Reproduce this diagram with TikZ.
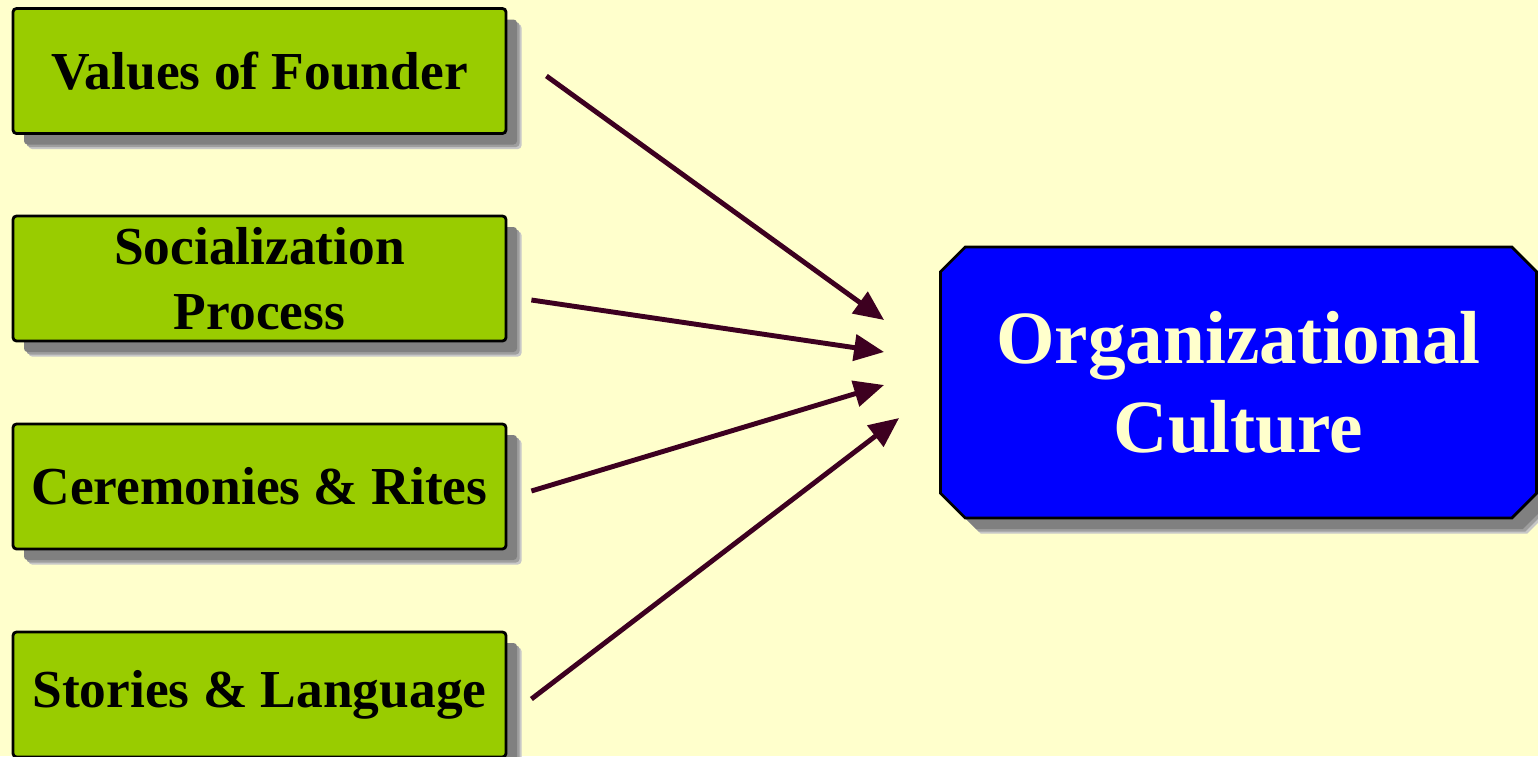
\documentclass[tikz,border=0pt]{standalone}
\usepackage{fontspec}
\setmainfont{Liberation Serif}
\usetikzlibrary{shapes.geometric, shapes.misc, arrows.meta, positioning, calc, shadows}
\definecolor{paleyellow}{RGB}{255,255,204}
\definecolor{leafgreen}{RGB}{153,204,0}
\definecolor{pureblue}{RGB}{0,0,255}
\definecolor{darkplum}{RGB}{61,0,32}

\begin{document}
\begin{tikzpicture}
        \tikzstyle{soft shadow} = [drop shadow={shadow xshift=0.155cm, shadow yshift=-0.155cm, fill=black!22, opacity=1}, drop shadow={shadow xshift=0.135cm, shadow yshift=-0.135cm, fill=black!38, opacity=1}, drop shadow={shadow xshift=0.11cm, shadow yshift=-0.11cm, fill=black!50, opacity=1}]
        \tikzstyle{factor} = [rectangle, draw=black, line width=0.8pt, rounded corners=1pt, fill=leafgreen, minimum width=4.93cm, minimum height=1.25cm, inner sep=0pt, align=center, font=\fontsize{15.2}{18.5}\selectfont\bfseries, soft shadow]
        \tikzstyle{result} = [chamfered rectangle, chamfered rectangle xsep=0.14cm, draw=black, line width=0.8pt, fill=pureblue, text=paleyellow, minimum width=5.96cm, minimum height=2.71cm, inner sep=0pt, align=center, font=\fontsize{21.4}{25.3}\selectfont\bfseries, soft shadow]
        \tikzstyle{flow} = [draw=darkplum, line width=1.4pt, -{Triangle[length=0.3cm, width=0.26cm]}]

        % background and page size
        \fill[paleyellow] (0,0) rectangle (15.38,-7.56);
        \useasboundingbox (0,0) rectangle (15.38,-7.56);

        % influencing factors
        \node[factor] (values) at (2.595,-0.71){Values of Founder};
        \node[factor] (social) at (2.595,-2.785){Socialization\\Process};
        \node[factor] (rites) at (2.595,-4.865){Ceremonies \& Rites};
        \node[factor] (stories) at (2.595,-6.945){Stories \& Language};

        % outcome
        \node[result] (culture) at (12.385,-3.825){Organizational\\Culture};

        % arrow heads in front of the outcome
        \coordinate (in1) at ($(culture.west)+(-0.55,0.625)$);
        \coordinate (in2) at ($(culture.west)+(-0.55,0.305)$);
        \coordinate (in3) at ($(culture.west)+(-0.55,-0.025)$);
        \coordinate (in4) at ($(culture.west)+(-0.40,-0.355)$);

        \draw[flow] ([xshift=0.39cm, yshift=-0.05cm]values.east) -- (in1);
        \draw[flow] ([xshift=0.24cm, yshift=-0.215cm]social.east) -- (in2);
        \draw[flow] ([xshift=0.24cm, yshift=-0.045cm]rites.east) -- (in3);
        \draw[flow] ([xshift=0.24cm, yshift=-0.045cm]stories.east) -- (in4);
\end{tikzpicture}
\end{document}
